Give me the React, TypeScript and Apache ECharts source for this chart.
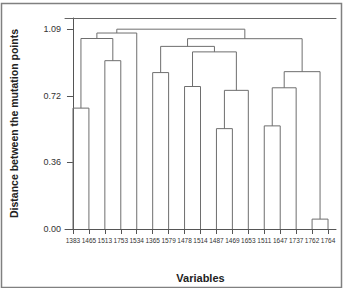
import React, { useEffect, useRef } from "react";
import * as echarts from "echarts";

// Leaf labels in dendrogram order
const leafLabels = [
  "1383", "1465", "1513", "1753", "1534", "1365", "1579", "1478", "1514",
  "1487", "1469", "1653", "1511", "1647", "1737", "1762", "1764",
];

// hclust-style merges: negative = leaf (-(index+1)), positive = earlier merge (1-based)
const mergeLeft = [-1, -3, 1, 3, -6, -8, -10, 7, 6, 5, -13, 11, -16, 12, 10, 4];
const mergeRight = [-2, -4, 2, -5, -7, -9, -11, -12, 8, 9, -14, -15, -17, 13, 14, 15];
const mergeHeight = [
  0.66, 0.919, 1.04, 1.07, 0.854, 0.778, 0.548, 0.757, 0.967, 0.997, 0.563,
  0.771, 0.054, 0.859, 1.039, 1.091,
];

// y axis ticks and their printed labels
const yTickValues = [0, 0.3633, 0.7267, 1.09];
const yTickLabels = ["0.00", "0.36", "0.72", "1.09"];
const yMax = 1.152;

export default function App() {
  const ref = useRef<HTMLDivElement>(null);

  useEffect(() => {
    if (!ref.current) return;
    const chart = echarts.init(ref.current, null, { renderer: "svg" });

    const nodeX: number[] = [];
    const nodeH: number[] = [];
    const pos = (id: number): [number, number] =>
      id < 0 ? [-id - 1, 0] : [nodeX[id - 1], nodeH[id - 1]];

    const links: { coords: number[][] }[] = [];
    for (let i = 0; i < mergeLeft.length; i++) {
      const [xl, hl] = pos(mergeLeft[i]);
      const [xr, hr] = pos(mergeRight[i]);
      const h = mergeHeight[i];
      nodeX.push((xl + xr) / 2);
      nodeH.push(h);
      links.push({ coords: [[xl, hl], [xl, h], [xr, h], [xr, hr]] });
    }

    const leafIdx = leafLabels.map((_, i) => i);
    const sans = "'Liberation Sans', Arial, sans-serif";
    const axisColor = "#555";

    chart.setOption({
      animation: false,
      backgroundColor: "#fff",
      grid: { left: 61, right: 9, top: 18, bottom: 56, containLabel: false },
      xAxis: [
        {
          type: "value",
          min: -0.5,
          max: leafLabels.length - 0.5,
          name: "Variables",
          nameLocation: "middle",
          nameGap: 43,
          nameTextStyle: {
            fontFamily: sans,
            fontWeight: "bold",
            fontSize: 11,
            color: "#222",
          },
          splitLine: { show: false },
          axisLine: { show: true, lineStyle: { color: axisColor, width: 1 } },
          axisTick: {
            show: true,
            customValues: leafIdx,
            length: 5,
            lineStyle: { color: axisColor },
          },
          axisLabel: {
            customValues: leafIdx,
            showMinLabel: true,
            showMaxLabel: true,
            hideOverlap: false,
            formatter: (v: number) => leafLabels[Math.round(v)] ?? "",
            fontFamily: sans,
            fontSize: 6.5,
            color: "#333",
            margin: 8,
          },
        },
        {
          type: "value",
          position: "top",
          min: -0.5,
          max: leafLabels.length - 0.5,
          splitLine: { show: false },
          axisLine: { show: true, lineStyle: { color: "#666", width: 1 } },
          axisTick: { show: false },
          axisLabel: { show: false },
        },
      ],
      yAxis: {
        type: "value",
        min: 0,
        max: yMax,
        name: "Distance between the mutation points",
        nameLocation: "middle",
        nameRotate: 90,
        nameGap: 46,
        nameTextStyle: {
          fontFamily: sans,
          fontWeight: "bold",
          fontSize: 10.5,
          color: "#222",
        },
        splitLine: { show: false },
        axisLine: { show: true, lineStyle: { color: axisColor, width: 1 } },
        axisTick: {
          show: true,
          customValues: yTickValues,
          length: 6,
          lineStyle: { color: axisColor },
        },
        axisLabel: {
          customValues: yTickValues,
          showMinLabel: true,
          showMaxLabel: true,
          formatter: (v: number) => {
            const i = yTickValues.findIndex((t) => Math.abs(t - v) < 1e-6);
            return i >= 0 ? yTickLabels[i] : "";
          },
          fontFamily: sans,
          fontSize: 9,
          color: "#333",
          margin: 4,
        },
      },
      series: [
        {
          type: "lines",
          coordinateSystem: "cartesian2d",
          polyline: true,
          silent: true,
          lineStyle: { color: "#6e6e6e", width: 1, opacity: 1 },
          data: links,
        },
      ],
      graphic: [
        {
          type: "rect",
          shape: { x: 1.5, y: 3.5, width: 340, height: 284 },
          style: { fill: "none", stroke: "#808080", lineWidth: 1.5 },
          silent: true,
        },
      ],
    });

    return () => chart.dispose();
  }, []);

  return (
    <div
      ref={ref}
      style={{ position: "fixed", left: 0, top: 0, width: 345, height: 288 }}
    />
  );
}
